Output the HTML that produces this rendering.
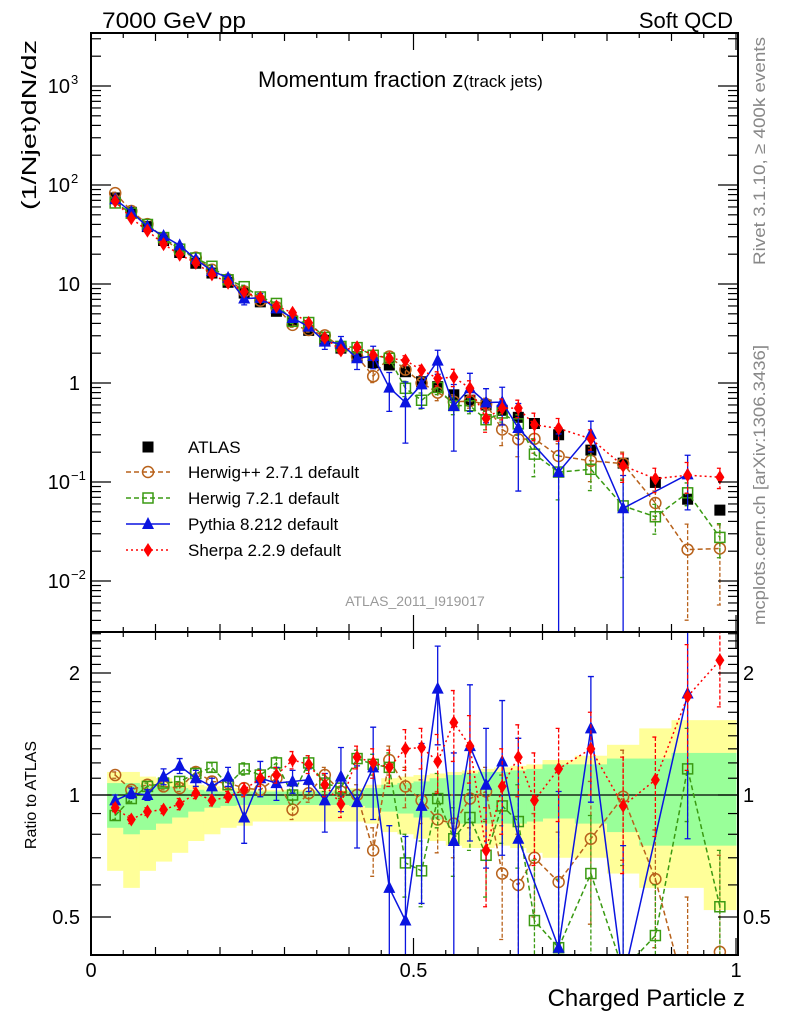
<!DOCTYPE html>
<html><head><meta charset="utf-8"><style>
html,body{margin:0;padding:0;background:#fff;overflow:hidden;width:786px;height:1024px;position:relative}
svg{display:block;position:absolute;left:0;top:0;font-family:"Liberation Sans",sans-serif}
</style></head><body>
<svg id="chart" width="786" height="1024" viewBox="0 0 786 1024" overflow="hidden" xmlns="http://www.w3.org/2000/svg">
<defs>
<clipPath id="cm"><rect x="91" y="33" width="647" height="599"/></clipPath>
<clipPath id="cr"><rect x="91" y="632" width="647" height="323"/></clipPath>
</defs>
<g id="bands" clip-path="url(#cr)"></g>
<g id="main" clip-path="url(#cm)"></g>
<g id="ratio" clip-path="url(#cr)"></g>
<g id="axes"></g>
<text x="102" y="28" font-size="22" textLength="144" lengthAdjust="spacingAndGlyphs">7000 GeV pp</text>
<text x="733" y="28" font-size="22" text-anchor="end">Soft QCD</text>
<text x="258" y="87" font-size="22">Momentum fraction z<tspan font-size="17">(track jets)</tspan></text>
<text transform="translate(36,40) rotate(-90)" font-size="20" text-anchor="end" textLength="170" lengthAdjust="spacingAndGlyphs">(1/Njet)dN/dz</text>
<text transform="translate(36,795) rotate(-90)" font-size="16" text-anchor="middle">Ratio to ATLAS</text>
<text x="745" y="1006" font-size="24" text-anchor="end">Charged Particle z</text>
<text transform="translate(765,37) rotate(-90)" font-size="17" fill="#888" text-anchor="end" textLength="228" lengthAdjust="spacingAndGlyphs">Rivet 3.1.10, ≥ 400k events</text>
<text transform="translate(765,345) rotate(-90)" font-size="17" fill="#888" text-anchor="end" textLength="280" lengthAdjust="spacingAndGlyphs">mcplots.cern.ch [arXiv:1306.3436]</text>
<text x="415" y="606" font-size="14" fill="#999" text-anchor="middle">ATLAS_2011_I919017</text>
<g id="legend"></g>
</svg>
<script>
const zCenters=[0.0375,0.0625,0.0875,0.1125,0.1375,0.1625,0.1875,0.2125,0.2375,0.2625,0.2875,0.3125,0.3375,0.3625,0.3875,0.4125,0.4375,0.4625,0.4875,0.5125,0.5375,0.5625,0.5875,0.6125,0.6375,0.6625,0.6875,0.725,0.775,0.825,0.875,0.925,0.975];
const zHalf=[0.0125,0.0125,0.0125,0.0125,0.0125,0.0125,0.0125,0.0125,0.0125,0.0125,0.0125,0.0125,0.0125,0.0125,0.0125,0.0125,0.0125,0.0125,0.0125,0.0125,0.0125,0.0125,0.0125,0.0125,0.0125,0.0125,0.0125,0.025,0.025,0.025,0.025,0.025,0.025];
const atlas=[74,53,38,27.5,20.8,16.2,12.9,10.4,8.1,6.6,5.3,4.2,3.4,2.7,2.25,1.85,1.6,1.52,1.30,1.03,0.92,0.76,0.67,0.60,0.53,0.45,0.39,0.30,0.21,0.155,0.099,0.067,0.052];
const herwigppRatio=[1.12,1.03,1.06,1.05,1.04,1.14,1.08,1.07,1.04,1.03,1.10,0.92,1.01,1.12,1.02,1.0,0.73,1.22,1.05,0.97,0.87,0.85,0.98,1.02,0.64,0.60,0.70,0.61,0.78,0.99,0.62,0.31,0.41];
const herwig7Ratio=[0.89,0.98,1.05,1.07,1.08,1.13,1.17,1.06,1.16,1.12,1.20,1.0,1.20,1.07,1.04,1.23,1.19,1.17,0.68,0.65,0.98,0.78,0.88,0.71,0.94,0.86,0.49,0.42,0.64,0.37,0.45,1.16,0.53];
const pythiaRatio=[0.97,1.01,1.0,1.11,1.18,1.10,1.05,1.11,0.88,1.10,1.07,1.08,1.09,0.97,1.11,0.96,1.17,0.59,0.49,0.94,1.83,0.77,1.32,1.06,1.21,0.78,null,0.42,1.46,0.35,null,1.78,null];
const sherpaRatio=[0.93,0.87,0.91,0.92,0.95,1.01,0.97,0.99,1.03,1.10,1.12,1.22,1.19,1.06,0.95,1.24,1.20,1.17,1.30,1.31,1.21,1.51,1.32,0.73,1.05,1.24,0.97,1.16,1.30,0.94,1.09,1.75,2.15];
const herwigppErr=[0.02,0.02,0.02,0.02,0.02,0.03,0.03,0.03,0.03,0.04,0.04,0.05,0.05,0.05,0.05,0.06,0.1,0.1,0.12,0.12,0.15,0.15,0.15,0.15,0.2,0.2,0.2,0.2,0.3,0.3,0.2,0.25,0.3];
const herwig7Err=[0.02,0.02,0.02,0.02,0.03,0.03,0.03,0.03,0.04,0.04,0.04,0.05,0.05,0.05,0.06,0.06,0.07,0.1,0.12,0.12,0.15,0.15,0.15,0.15,0.18,0.2,0.2,0.2,0.25,0.3,0.15,0.3,0.2];
const pythiaErr=[0.03,0.03,0.03,0.05,0.05,0.05,0.05,0.06,0.12,0.11,0.1,0.07,0.07,0.16,0.2,0.22,0.3,0.25,0.3,0.4,0.5,0.5,0.55,0.4,0.5,0.6,null,0.6,0.5,0.4,null,1.0,null];
const sherpaErr=[0.02,0.02,0.02,0.02,0.03,0.03,0.03,0.03,0.04,0.05,0.05,0.06,0.06,0.07,0.07,0.08,0.1,0.12,0.15,0.15,0.2,0.3,0.25,0.2,0.25,0.25,0.3,0.3,0.3,0.3,0.3,0.6,0.5];
const yellowUp=[1.14,1.14,1.11,1.10,1.08,1.06,1.05,1.04,1.04,1.03,1.03,1.03,1.03,1.03,1.03,1.04,1.06,1.10,1.11,1.12,1.13,1.14,1.15,1.16,1.17,1.18,1.19,1.22,1.25,1.33,1.46,1.53,1.53];
const yellowLo=[0.65,0.59,0.65,0.685,0.72,0.77,0.80,0.83,0.84,0.86,0.86,0.86,0.86,0.86,0.86,0.86,0.85,0.81,0.80,0.78,0.77,0.75,0.74,0.74,0.75,0.74,0.72,0.70,0.70,0.64,0.59,0.59,0.52];
const greenUp=[1.07,1.07,1.06,1.05,1.04,1.03,1.02,1.02,1.02,1.02,1.02,1.02,1.02,1.02,1.02,1.03,1.04,1.06,1.07,1.08,1.10,1.12,1.13,1.14,1.14,1.15,1.16,1.19,1.19,1.23,1.23,1.27,1.27];
const greenLo=[0.83,0.80,0.82,0.85,0.88,0.91,0.93,0.94,0.945,0.945,0.945,0.945,0.945,0.945,0.945,0.94,0.93,0.91,0.90,0.88,0.87,0.85,0.85,0.85,0.85,0.85,0.86,0.875,0.85,0.81,0.75,0.75,0.75];
const yTicks=[0.01,0.1,1,10,100,1000];
const yTickLabels=["10","10","1","10","10","10"];
const yTickExp=["−2","−1","","","2","3"];
const rTicks=[0.5,1,2];
const rTickLabels=["0.5","1","2"];
const xTicks=[0,0.5,1];
const xTickLabels=["0","0.5","1"];

const NS="http://www.w3.org/2000/svg";
const X=z=>91+z*645;
const Y=v=>383-99*Math.log10(v);
const R=r=>795-122*Math.log2(r);
function mk(tag,attrs,parent){const e=document.createElementNS(NS,tag);for(const k in attrs)e.setAttribute(k,attrs[k]);parent.appendChild(e);return e;}
const gM=document.getElementById('main'),gR=document.getElementById('ratio'),gB=document.getElementById('bands'),gA=document.getElementById('axes'),gL=document.getElementById('legend');

function band(up,lo,color,nm){
  for(let i=0;i<zCenters.length;i++){
    const x0=X(zCenters[i]-zHalf[i]),x1=X(zCenters[i]+zHalf[i]);
    const r=mk('rect',{x:x0,y:R(up[i]),width:x1-x0+0.5,height:R(lo[i])-R(up[i]),fill:color},gB);
    
    
  }
}
band(yellowUp,yellowLo,'#ffff99','uncertainty-band-total');
band(greenUp,greenLo,'#99ff99','uncertainty-band-stat');
const one=mk('line',{x1:91,x2:738,y1:R(1),y2:R(1),stroke:'#000','stroke-width':1.3},gB);



function marker(type,x,y,color,parent){
  let e;
  if(type==='sq')e=mk('rect',{x:x-5.5,y:y-5.5,width:11,height:11,fill:'#000'},parent);
  else if(type==='circ')e=mk('circle',{cx:x,cy:y,r:5.5,fill:'none',stroke:color,'stroke-width':1.5},parent);
  else if(type==='osq')e=mk('rect',{x:x-5,y:y-5,width:10,height:10,fill:'none',stroke:color,'stroke-width':1.5},parent);
  else if(type==='tri')e=mk('polygon',{points:`${x},${y-7} ${x-6},${y+5} ${x+6},${y+5}`,fill:color},parent);
  else e=mk('polygon',{points:`${x},${y-7} ${x-4.5},${y} ${x},${y+7} ${x+4.5},${y}`,fill:color},parent);
  return e;
}
const series=[
 {name:'herwigpp',ratio:herwigppRatio,err:herwigppErr,color:'#b8621b',dash:'5,3',m:'circ',label:'Herwig++ 2.7.1 default'},
 {name:'herwig7',ratio:herwig7Ratio,err:herwig7Err,color:'#3a9a12',dash:'5,3',m:'osq',label:'Herwig 7.2.1 default'},
 {name:'pythia',ratio:pythiaRatio,err:pythiaErr,color:'#0a14e0',dash:'',m:'tri',label:'Pythia 8.212 default'},
 {name:'sherpa',ratio:sherpaRatio,err:sherpaErr,color:'#ff0000',dash:'2,3',m:'dia',label:'Sherpa 2.2.9 default'}
];
atlas.forEach((v,i)=>{
  const e=marker('sq',X(zCenters[i]),Y(v),'#000',gM);
  
  
});
series.forEach(s=>{
  ['main','ratio'].forEach(panel=>{
    const g=panel==='main'?gM:gR;
    const val=i=>panel==='main'?atlas[i]*s.ratio[i]:s.ratio[i];
    const fy=panel==='main'?Y:R;
    let d='';
    s.ratio.forEach((r,i)=>{if(r==null)return;d+=(d?'L':'M')+X(zCenters[i]).toFixed(1)+','+fy(val(i)).toFixed(1);});
    const p=mk('path',{d:d,fill:'none',stroke:s.color,'stroke-width':1.5,'stroke-dasharray':s.dash},g);
    
    
    s.ratio.forEach((r,i)=>{
      if(r==null)return;
      const x=X(zCenters[i]);
      const sc=panel==='main'?atlas[i]:1;
      const hi=(r+s.err[i])*sc,lo=Math.max(r-s.err[i],0.001)*sc;
      const eb=mk('path',{d:`M${x},${fy(hi)}V${fy(lo)}M${x-3},${fy(hi)}h6M${x-3},${fy(lo)}h6`,stroke:s.color,'stroke-width':1.3,fill:'none','stroke-dasharray':s.dash?'4,2':''},g);
      
      
      const m=marker(s.m,x,fy(val(i)),s.color,g);
      
      
    });
  });
});
[[33,599],[632,323]].forEach(([y,h],k)=>{
  const f=mk('rect',{x:91,y:y,width:647,height:h,fill:'none',stroke:'#000','stroke-width':2},gA);
  
  
});
for(let k=0;k<=20;k++){
  const z=k*0.05,x=X(z);
  const len=(k%10===0)?17:(k%2===0?8:5);
  [[33,1],[632,-1],[632,1],[955,-1]].forEach(([y,dir])=>{
    const t=mk('line',{x1:x,x2:x,y1:y,y2:y+dir*len,stroke:'#000','stroke-width':1.2},gA);
    
    
  });
}
xTicks.forEach((z,i)=>{
  const t=mk('text',{x:X(z),y:977,'font-size':20,'text-anchor':'middle'},gA);t.textContent=xTickLabels[i];
  
  
});
for(let d=-3;d<=3;d++){
  for(let m=1;m<=9;m++){
    const v=m*Math.pow(10,d),y=Y(v);
    if(y<33||y>632)continue;
    const len=m===1?20:10;
    [[91,1],[738,-1]].forEach(([x,dir])=>{
      const t=mk('line',{x1:x,x2:x+dir*len,y1:y,y2:y,stroke:'#000','stroke-width':1.2},gA);
      
      
    });
  }
}
yTicks.forEach((v,i)=>{
  const t=mk('text',{x:yTickExp[i]?70:80,y:Y(v)+7,'font-size':20,'text-anchor':'end'},gA);
  t.textContent=yTickLabels[i];
  
  
  if(yTickExp[i]){const s=mk('text',{x:71,y:Y(v)-2,'font-size':13},gA);s.textContent=yTickExp[i];
    
    }
});
for(let k=4;k<=25;k++){
  const r=k/10,y=R(r);if(y<632||y>955)continue;
  const major=(k===5||k===10||k===20);
  [[91,1],[738,-1]].forEach(([x,dir])=>{
    const t=mk('line',{x1:x,x2:x+dir*(major?20:10),y1:y,y2:y,stroke:'#000','stroke-width':1.2},gA);
    
    
  });
}
rTicks.forEach((r,i)=>{
  [[80,'end'],[743,'start']].forEach(([x,a])=>{
    const t=mk('text',{x:x,y:R(r)+7,'font-size':20,'text-anchor':a},gA);t.textContent=rTickLabels[i];
    
    
  });
});
const lt=mk('text',{x:188,y:453,'font-size':17},gL);lt.textContent='ATLAS';


const lm=marker('sq',148,447,'#000',gL);


series.forEach((s,i)=>{
  const y=472+i*26;
  const l=mk('line',{x1:126,x2:170,y1:y,y2:y,stroke:s.color,'stroke-width':1.5,'stroke-dasharray':s.dash},gL);
  
  
  const m=marker(s.m,148,y,s.color,gL);
  
  
  const t=mk('text',{x:188,y:y+6,'font-size':17},gL);t.textContent=s.label;
  
  
});
</script>
</body></html>
